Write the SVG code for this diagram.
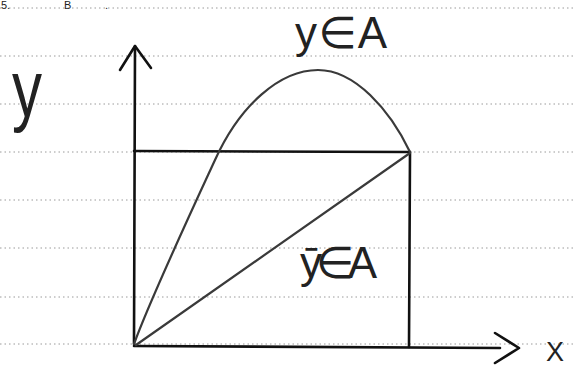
<svg xmlns="http://www.w3.org/2000/svg" width="575" height="369" viewBox="0 0 575 369">
  <style>
    .rule { stroke: #9a9a9a; stroke-width: 1; stroke-dasharray: 1.5 3; fill: none; }
    .ink { stroke: #111; stroke-width: 2.6; fill: none; stroke-linecap: round; stroke-linejoin: round; }
    .soft { stroke: #3a3a3a; stroke-width: 2.2; fill: none; stroke-linecap: round; stroke-linejoin: round; }
    .hand { font-family: "Liberation Sans", "DejaVu Sans", sans-serif; fill: #222; }
  </style>
  <rect width="575" height="369" fill="#fff"/>

  <g id="paper-lines">
    <line class="rule" x1="0" y1="8" x2="575" y2="8"/>
    <line class="rule" x1="0" y1="56" x2="575" y2="56"/>
    <line class="rule" x1="0" y1="104" x2="575" y2="104"/>
    <line class="rule" x1="0" y1="152" x2="575" y2="152"/>
    <line class="rule" x1="0" y1="200" x2="575" y2="200"/>
    <line class="rule" x1="0" y1="248" x2="575" y2="248"/>
    <line class="rule" x1="0" y1="297" x2="575" y2="297"/>
    <line class="rule" x1="0" y1="344" x2="575" y2="344"/>
  </g>

  <g id="heading">
    <text class="hand" x="1" y="8.5" font-size="11">5.</text>
    <text class="hand" x="64" y="8.5" font-size="11" textLength="44" lengthAdjust="spacing">B.</text>
  </g>

  <g id="connectors">
    <!-- y axis -->
    <path id="y-axis" class="ink" d="M134,344 L135,46"/>
    <path class="ink" d="M120,70 L135,46 L151,68"/>
    <!-- x axis -->
    <path id="x-axis" class="ink" d="M134,346 L500,348"/>
    <path class="ink" d="M495,333 L519,348 L495,363"/>
    <!-- rectangle -->
    <path id="rect-top" class="ink" d="M134,151 L410,152"/>
    <path id="rect-right" class="ink" d="M410,152 L409,347"/>
    <!-- diagonal -->
    <path id="diagonal" class="soft" d="M136,345 L410,153"/>
    <!-- curve -->
    <path id="curve" class="soft" d="M134,344 C150,300 185,225 215,160 C240,105 280,70 318,70 C355,70 390,110 410,152"/>
  </g>

  <g id="labels">
    <text id="label-y" class="hand" x="12" y="116" font-size="80" textLength="30" lengthAdjust="spacingAndGlyphs">y</text>
    <text id="label-x" class="hand" x="546" y="361" font-size="27">X</text>
    <text id="label-yA" class="hand" x="295" y="48" font-size="44" textLength="92" lengthAdjust="spacing">y∈A</text>
    <text id="label-ybarA" class="hand" x="300" y="278" font-size="44" textLength="77" lengthAdjust="spacing">ȳ∈A</text>
  </g>
</svg>
